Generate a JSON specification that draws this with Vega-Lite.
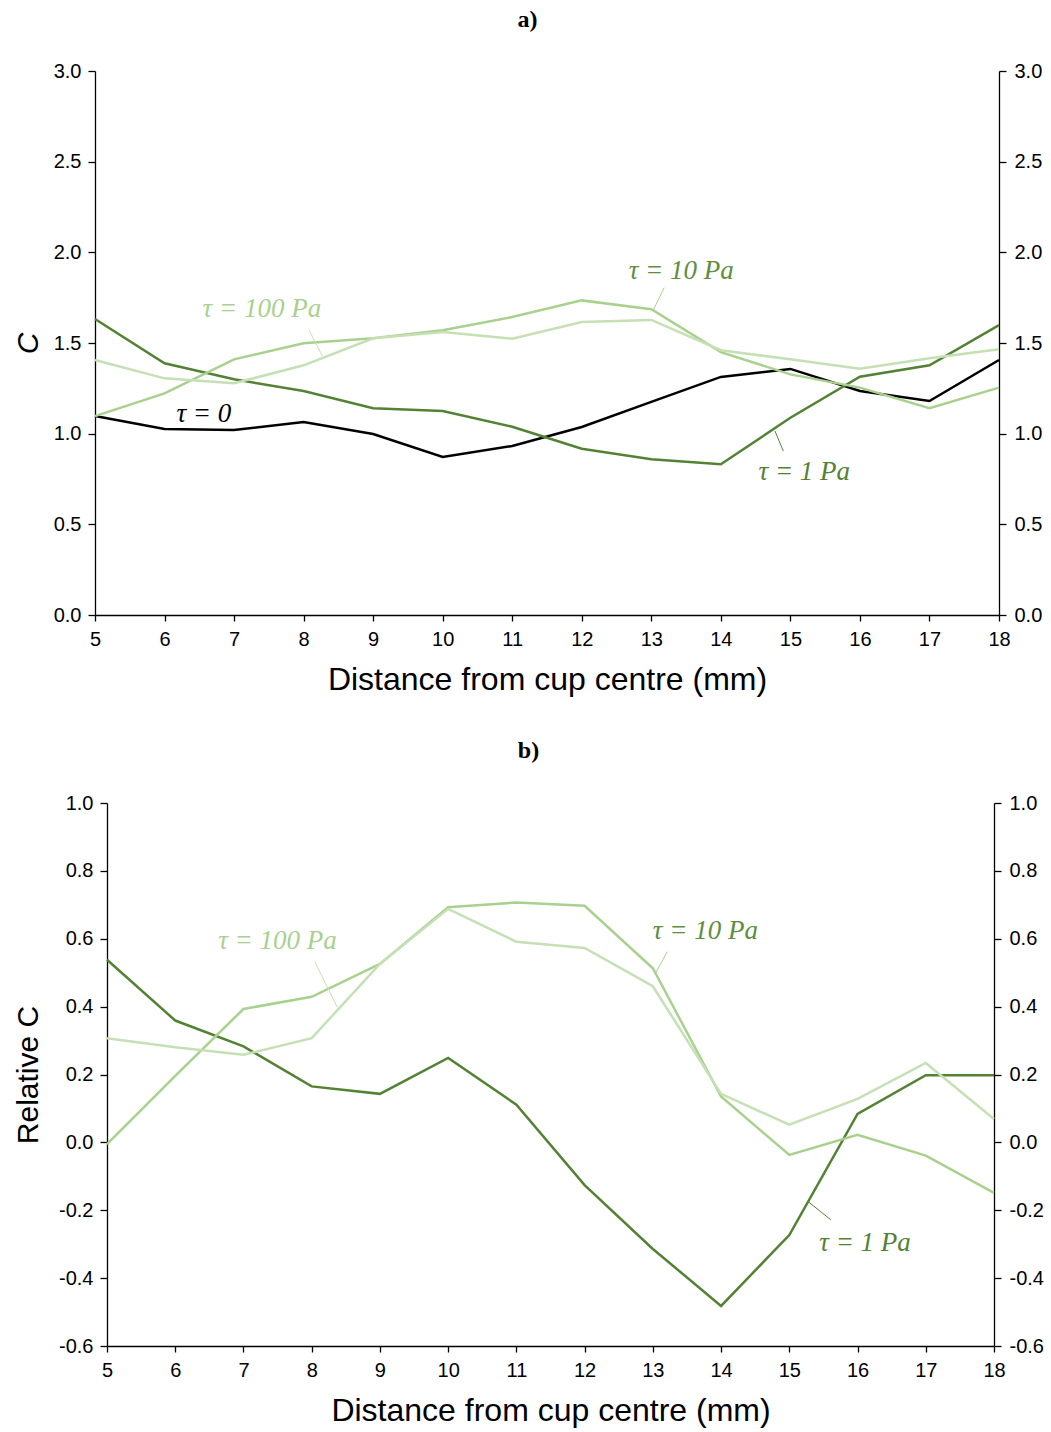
{
  "$schema": "https://vega.github.io/schema/vega-lite/v6.json",
  "background": "white",
  "padding": {"left": 13, "top": 8, "right": 5, "bottom": 5},
  "spacing": 44,
  "config": {
    "view": {"stroke": null},
    "axis": {
      "grid": false,
      "domainColor": "#000000",
      "tickColor": "#000000",
      "domainWidth": 1.3,
      "tickWidth": 1.3,
      "labelFont": "Liberation Sans",
      "labelFontSize": 20,
      "labelColor": "#000000",
      "titleFont": "Liberation Sans",
      "titleFontWeight": "normal",
      "titleColor": "#000000"
    },
    "title": {"font": "Liberation Serif", "fontSize": 24, "fontWeight": "bold", "color": "#000000", "anchor": "middle", "frame": "bounds"},
    "text": {"font": "Liberation Serif", "fontStyle": "italic", "fontSize": 27}
  },
  "datasets": {
    "panelA": [
      {"x": 5, "C": 1.097, "series": "τ = 0"}, {"x": 6, "C": 1.026, "series": "τ = 0"}, {"x": 7, "C": 1.02, "series": "τ = 0"}, {"x": 8, "C": 1.064, "series": "τ = 0"}, {"x": 9, "C": 0.998, "series": "τ = 0"}, {"x": 10, "C": 0.871, "series": "τ = 0"}, {"x": 11, "C": 0.932, "series": "τ = 0"}, {"x": 12, "C": 1.037, "series": "τ = 0"}, {"x": 13, "C": 1.175, "series": "τ = 0"}, {"x": 14, "C": 1.313, "series": "τ = 0"}, {"x": 15, "C": 1.357, "series": "τ = 0"}, {"x": 16, "C": 1.235, "series": "τ = 0"}, {"x": 17, "C": 1.18, "series": "τ = 0"}, {"x": 18, "C": 1.406, "series": "τ = 0"},
      {"x": 5, "C": 1.632, "series": "τ = 1 Pa"}, {"x": 6, "C": 1.388, "series": "τ = 1 Pa"}, {"x": 7, "C": 1.30, "series": "τ = 1 Pa"}, {"x": 8, "C": 1.235, "series": "τ = 1 Pa"}, {"x": 9, "C": 1.14, "series": "τ = 1 Pa"}, {"x": 10, "C": 1.125, "series": "τ = 1 Pa"}, {"x": 11, "C": 1.038, "series": "τ = 1 Pa"}, {"x": 12, "C": 0.917, "series": "τ = 1 Pa"}, {"x": 13, "C": 0.859, "series": "τ = 1 Pa"}, {"x": 14, "C": 0.831, "series": "τ = 1 Pa"}, {"x": 15, "C": 1.088, "series": "τ = 1 Pa"}, {"x": 16, "C": 1.314, "series": "τ = 1 Pa"}, {"x": 17, "C": 1.377, "series": "τ = 1 Pa"}, {"x": 18, "C": 1.599, "series": "τ = 1 Pa"},
      {"x": 5, "C": 1.097, "series": "τ = 10 Pa"}, {"x": 6, "C": 1.222, "series": "τ = 10 Pa"}, {"x": 7, "C": 1.41, "series": "τ = 10 Pa"}, {"x": 8, "C": 1.498, "series": "τ = 10 Pa"}, {"x": 9, "C": 1.526, "series": "τ = 10 Pa"}, {"x": 10, "C": 1.57, "series": "τ = 10 Pa"}, {"x": 11, "C": 1.643, "series": "τ = 10 Pa"}, {"x": 12, "C": 1.735, "series": "τ = 10 Pa"}, {"x": 13, "C": 1.686, "series": "τ = 10 Pa"}, {"x": 14, "C": 1.45, "series": "τ = 10 Pa"}, {"x": 15, "C": 1.327, "series": "τ = 10 Pa"}, {"x": 16, "C": 1.254, "series": "τ = 10 Pa"}, {"x": 17, "C": 1.14, "series": "τ = 10 Pa"}, {"x": 18, "C": 1.254, "series": "τ = 10 Pa"},
      {"x": 5, "C": 1.406, "series": "τ = 100 Pa"}, {"x": 6, "C": 1.305, "series": "τ = 100 Pa"}, {"x": 7, "C": 1.278, "series": "τ = 100 Pa"}, {"x": 8, "C": 1.377, "series": "τ = 100 Pa"}, {"x": 9, "C": 1.526, "series": "τ = 100 Pa"}, {"x": 10, "C": 1.561, "series": "τ = 100 Pa"}, {"x": 11, "C": 1.524, "series": "τ = 100 Pa"}, {"x": 12, "C": 1.616, "series": "τ = 100 Pa"}, {"x": 13, "C": 1.627, "series": "τ = 100 Pa"}, {"x": 14, "C": 1.46, "series": "τ = 100 Pa"}, {"x": 15, "C": 1.41, "series": "τ = 100 Pa"}, {"x": 16, "C": 1.358, "series": "τ = 100 Pa"}, {"x": 17, "C": 1.416, "series": "τ = 100 Pa"}, {"x": 18, "C": 1.465, "series": "τ = 100 Pa"}
    ],
    "labelsA": [
      {"x": 7.40, "C": 1.687, "series": "τ = 100 Pa"},
      {"x": 6.565, "C": 1.108, "series": "τ = 0"},
      {"x": 13.43, "C": 1.897, "series": "τ = 10 Pa"},
      {"x": 15.2, "C": 0.789, "series": "τ = 1 Pa"}
    ],
    "leadersA": [
      {"x": 8.077, "C": 1.572, "x2": 8.27, "C2": 1.428, "series": "τ = 100 Pa"},
      {"x": 13.185, "C": 1.805, "x2": 13.027, "C2": 1.68, "series": "τ = 10 Pa"},
      {"x": 14.778, "C": 1.015, "x2": 14.898, "C2": 0.904, "series": "τ = 1 Pa"}
    ],
    "panelB": [
      {"x": 5, "rel": 0.538, "series": "τ = 1 Pa"}, {"x": 6, "rel": 0.359, "series": "τ = 1 Pa"}, {"x": 7, "rel": 0.283, "series": "τ = 1 Pa"}, {"x": 8, "rel": 0.165, "series": "τ = 1 Pa"}, {"x": 9, "rel": 0.143, "series": "τ = 1 Pa"}, {"x": 10, "rel": 0.249, "series": "τ = 1 Pa"}, {"x": 11, "rel": 0.111, "series": "τ = 1 Pa"}, {"x": 12, "rel": -0.126, "series": "τ = 1 Pa"}, {"x": 13, "rel": -0.314, "series": "τ = 1 Pa"}, {"x": 14, "rel": -0.482, "series": "τ = 1 Pa"}, {"x": 15, "rel": -0.273, "series": "τ = 1 Pa"}, {"x": 16, "rel": 0.084, "series": "τ = 1 Pa"}, {"x": 17, "rel": 0.198, "series": "τ = 1 Pa"}, {"x": 18, "rel": 0.198, "series": "τ = 1 Pa"},
      {"x": 5, "rel": -0.005, "series": "τ = 10 Pa"}, {"x": 6, "rel": 0.196, "series": "τ = 10 Pa"}, {"x": 7, "rel": 0.393, "series": "τ = 10 Pa"}, {"x": 8, "rel": 0.429, "series": "τ = 10 Pa"}, {"x": 9, "rel": 0.526, "series": "τ = 10 Pa"}, {"x": 10, "rel": 0.693, "series": "τ = 10 Pa"}, {"x": 11, "rel": 0.707, "series": "τ = 10 Pa"}, {"x": 12, "rel": 0.697, "series": "τ = 10 Pa"}, {"x": 13, "rel": 0.513, "series": "τ = 10 Pa"}, {"x": 14, "rel": 0.135, "series": "τ = 10 Pa"}, {"x": 15, "rel": -0.037, "series": "τ = 10 Pa"}, {"x": 16, "rel": 0.022, "series": "τ = 10 Pa"}, {"x": 17, "rel": -0.039, "series": "τ = 10 Pa"}, {"x": 18, "rel": -0.149, "series": "τ = 10 Pa"},
      {"x": 5, "rel": 0.307, "series": "τ = 100 Pa"}, {"x": 6, "rel": 0.28, "series": "τ = 100 Pa"}, {"x": 7, "rel": 0.258, "series": "τ = 100 Pa"}, {"x": 8, "rel": 0.307, "series": "τ = 100 Pa"}, {"x": 9, "rel": 0.526, "series": "τ = 100 Pa"}, {"x": 10, "rel": 0.688, "series": "τ = 100 Pa"}, {"x": 11, "rel": 0.591, "series": "τ = 100 Pa"}, {"x": 12, "rel": 0.573, "series": "τ = 100 Pa"}, {"x": 13, "rel": 0.46, "series": "τ = 100 Pa"}, {"x": 14, "rel": 0.143, "series": "τ = 100 Pa"}, {"x": 15, "rel": 0.052, "series": "τ = 100 Pa"}, {"x": 16, "rel": 0.128, "series": "τ = 100 Pa"}, {"x": 17, "rel": 0.234, "series": "τ = 100 Pa"}, {"x": 18, "rel": 0.069, "series": "τ = 100 Pa"}
    ],
    "labelsB": [
      {"x": 7.499, "rel": 0.593, "series": "τ = 100 Pa"},
      {"x": 13.77, "rel": 0.623, "series": "τ = 10 Pa"},
      {"x": 16.11, "rel": -0.296, "series": "τ = 1 Pa"}
    ],
    "leadersB": [
      {"x": 8.049, "rel": 0.531, "x2": 8.375, "rel2": 0.398, "series": "τ = 100 Pa"},
      {"x": 13.212, "rel": 0.562, "x2": 13.032, "rel2": 0.496, "series": "τ = 10 Pa"},
      {"x": 15.279, "rel": -0.175, "x2": 15.607, "rel2": -0.228, "series": "τ = 1 Pa"}
    ]
  },
  "vconcat": [
    {
      "title": {"text": "a)", "offset": 29},
      "width": 904,
      "height": 544,
      "resolve": {"axis": {"y": "independent"}},
      "layer": [
        {
          "data": {"name": "panelA"},
          "mark": {"type": "line", "strokeWidth": 2.5},
          "encoding": {
            "x": {"field": "x", "type": "quantitative", "scale": {"domain": [5, 18], "nice": false, "zero": false},
              "axis": {"values": [5, 6, 7, 8, 9, 10, 11, 12, 13, 14, 15, 16, 17, 18], "format": "d", "title": "Distance from cup centre (mm)", "titleFontSize": 32, "tickSize": 6, "labelPadding": 8, "titlePadding": 15, "labelFlush": false}},
            "y": {"field": "C", "type": "quantitative", "scale": {"domain": [0, 3], "nice": false},
              "axis": {"values": [0, 0.5, 1, 1.5, 2, 2.5, 3], "format": ".1f", "title": "C", "titleFontStyle": "italic", "titleFontSize": 30, "tickSize": 7, "labelPadding": 7, "titlePadding": 10}},
            "stroke": {"field": "series", "type": "nominal",
              "scale": {"domain": ["τ = 0", "τ = 1 Pa", "τ = 10 Pa", "τ = 100 Pa"], "range": ["#000000", "#548235", "#A9D18E", "#C5E0B4"]}, "legend": null}
          }
        },
        {
          "data": {"name": "panelA"},
          "mark": {"type": "line", "strokeOpacity": 0},
          "encoding": {
            "x": {"field": "x", "type": "quantitative"},
            "y": {"field": "C", "type": "quantitative",
              "axis": {"orient": "right", "values": [0, 0.5, 1, 1.5, 2, 2.5, 3], "format": ".1f", "title": null, "tickSize": 7, "labelPadding": 8}},
            "detail": {"field": "series"}
          }
        },
        {
          "data": {"name": "leadersA"},
          "mark": {"type": "rule", "strokeWidth": 1},
          "encoding": {
            "x": {"field": "x", "type": "quantitative"},
            "x2": {"field": "x2"},
            "y": {"field": "C", "type": "quantitative", "axis": null},
            "y2": {"field": "C2"},
            "stroke": {"field": "series", "type": "nominal", "legend": null}
          }
        },
        {
          "data": {"name": "labelsA"},
          "mark": {"type": "text", "align": "center", "baseline": "middle"},
          "encoding": {
            "x": {"field": "x", "type": "quantitative"},
            "y": {"field": "C", "type": "quantitative", "axis": null},
            "text": {"field": "series"},
            "fill": {"field": "series", "type": "nominal",
              "scale": {"domain": ["τ = 0", "τ = 1 Pa", "τ = 10 Pa", "τ = 100 Pa"], "range": ["#000000", "#548235", "#5E8E3E", "#A9D18E"]}, "legend": null}
          }
        }
      ]
    },
    {
      "title": {"text": "b)", "offset": 30},
      "width": 899,
      "height": 543,
      "resolve": {"axis": {"y": "independent"}},
      "layer": [
        {
          "mark": {"type": "rule", "color": "#000000", "strokeWidth": 1},
          "encoding": {
            "x": {"datum": 5, "type": "quantitative"},
            "x2": {"datum": 18},
            "y": {"datum": 0, "type": "quantitative", "axis": null}
          }
        },
        {
          "data": {"name": "panelB"},
          "mark": {"type": "line", "strokeWidth": 2.5},
          "encoding": {
            "x": {"field": "x", "type": "quantitative", "scale": {"domain": [5, 18], "range": [12, 899], "nice": false, "zero": false},
              "axis": {"values": [5, 6, 7, 8, 9, 10, 11, 12, 13, 14, 15, 16, 17, 18], "format": "d", "title": "Distance from cup centre (mm)", "titleFontSize": 32, "tickSize": 6, "labelPadding": 8, "titlePadding": 15, "labelFlush": false}},
            "y": {"field": "rel", "type": "quantitative", "scale": {"domain": [-0.6, 1], "nice": false, "zero": false},
              "axis": {"values": [-0.6, -0.4, -0.2, 0, 0.2, 0.4, 0.6, 0.8, 1], "labelExpr": "replace(format(datum.value, '.1f'), '−', '-')", "title": "Relative C", "titleFontSize": 30, "tickSize": 7, "labelPadding": 7, "titlePadding": 15, "offset": -12}},
            "stroke": {"field": "series", "type": "nominal",
              "scale": {"domain": ["τ = 0", "τ = 1 Pa", "τ = 10 Pa", "τ = 100 Pa"], "range": ["#000000", "#548235", "#A9D18E", "#C5E0B4"]}, "legend": null}
          }
        },
        {
          "data": {"name": "panelB"},
          "mark": {"type": "line", "strokeOpacity": 0},
          "encoding": {
            "x": {"field": "x", "type": "quantitative"},
            "y": {"field": "rel", "type": "quantitative",
              "axis": {"orient": "right", "values": [-0.6, -0.4, -0.2, 0, 0.2, 0.4, 0.6, 0.8, 1], "labelExpr": "replace(format(datum.value, '.1f'), '−', '-')", "title": null, "tickSize": 7, "labelPadding": 8}},
            "detail": {"field": "series"}
          }
        },
        {
          "data": {"name": "leadersB"},
          "mark": {"type": "rule", "strokeWidth": 1},
          "encoding": {
            "x": {"field": "x", "type": "quantitative"},
            "x2": {"field": "x2"},
            "y": {"field": "rel", "type": "quantitative", "axis": null},
            "y2": {"field": "rel2"},
            "stroke": {"field": "series", "type": "nominal", "legend": null}
          }
        },
        {
          "data": {"name": "labelsB"},
          "mark": {"type": "text", "align": "center", "baseline": "middle"},
          "encoding": {
            "x": {"field": "x", "type": "quantitative"},
            "y": {"field": "rel", "type": "quantitative", "axis": null},
            "text": {"field": "series"},
            "fill": {"field": "series", "type": "nominal",
              "scale": {"domain": ["τ = 0", "τ = 1 Pa", "τ = 10 Pa", "τ = 100 Pa"], "range": ["#000000", "#548235", "#5E8E3E", "#A9D18E"]}, "legend": null}
          }
        }
      ]
    }
  ]
}
